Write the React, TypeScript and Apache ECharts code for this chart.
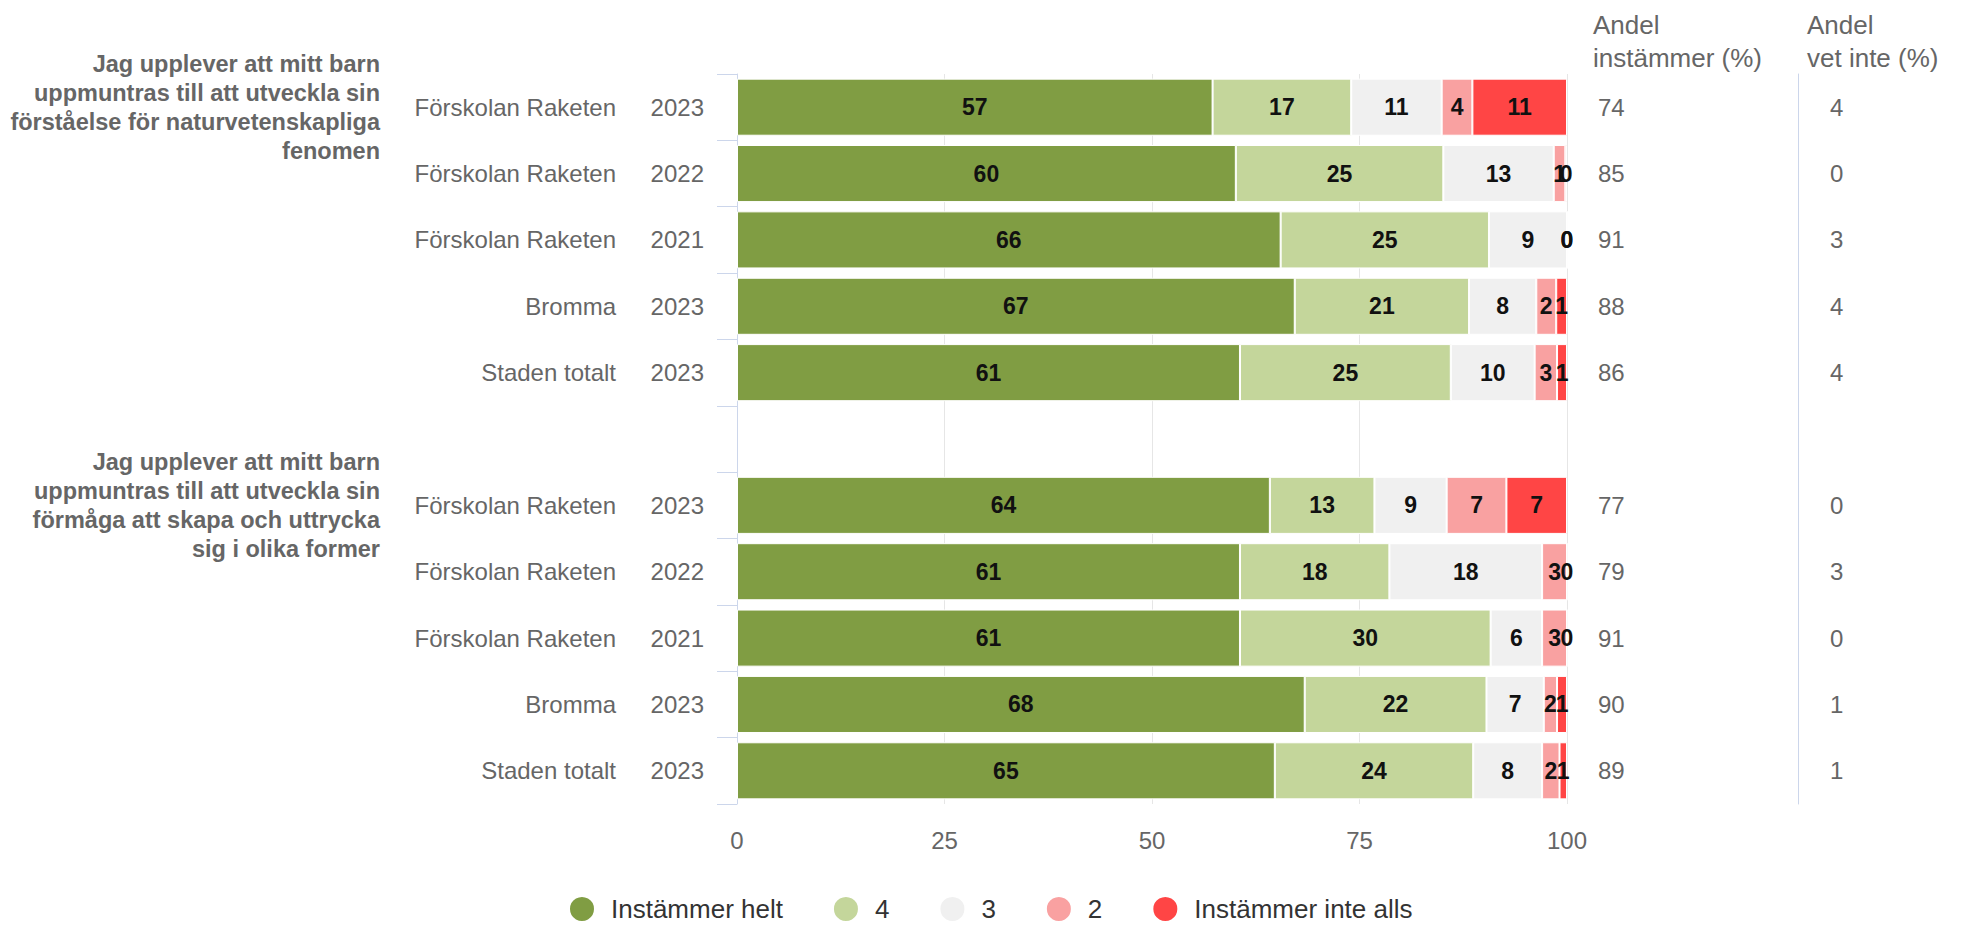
import React, { useEffect, useRef } from "react";
import * as echarts from "echarts";

const categories = [
  "Förskolan Raketen", "Förskolan Raketen", "Förskolan Raketen", "Bromma", "Staden totalt", "",
  "Förskolan Raketen", "Förskolan Raketen", "Förskolan Raketen", "Bromma", "Staden totalt",
];
const years = ["2023", "2022", "2021", "2023", "2023", "", "2023", "2022", "2021", "2023", "2023"];
const questions = [
  "Jag upplever att mitt barn\nuppmuntras till att utveckla sin\nförståelse för naturvetenskapliga\nfenomen",
  "", "", "", "", "",
  "Jag upplever att mitt barn\nuppmuntras till att utveckla sin\nförmåga att skapa och uttrycka\nsig i olika former",
  "", "", "", "",
];

const seriesNames = ["Instämmer helt", "4", "3", "2", "Instämmer inte alls"];
const seriesColors = ["#809d43", "#c4d69b", "#f0f0f0", "#f9a1a1", "#ff4545"];

const helt = [57.3, 60.1, 65.5, 67.2, 60.6, null, 64.2, 60.6, 60.6, 68.4, 64.8];
const fyra = [16.7, 25.0, 25.1, 21.0, 25.4, null, 12.6, 18.0, 30.2, 21.9, 23.9];
const tre = [10.9, 13.3, 9.4, 8.1, 10.1, null, 8.7, 18.4, 6.2, 6.9, 8.3];
const tva = [3.7, 1.4, 0, 2.4, 2.7, null, 7.2, 3.0, 3.0, 1.6, 2.1];
const inteAlls = [11.4, 0.2, 0, 1.3, 1.2, null, 7.3, 0, 0, 1.2, 0.9];

const andelInstammer = ["74", "85", "91", "88", "86", "", "77", "79", "91", "90", "89"];
const andelVetInte = ["4", "0", "3", "4", "4", "", "0", "3", "0", "1", "1"];

const xTicks = { min: 0, max: 100, interval: 25 };

const FONT = "'Liberation Sans', Arial, Helvetica, sans-serif";

export default function App() {
  const ref = useRef<HTMLDivElement>(null);

  useEffect(() => {
    if (!ref.current) return;
    const chart = echarts.init(ref.current, undefined, { renderer: "svg" });
    const values = [helt, fyra, tre, tva, inteAlls];

    const baseCatAxis = {
      type: "category" as const,
      inverse: true,
      gridIndex: 0,
      axisLine: { show: false },
      axisTick: { show: false },
      splitLine: { show: false },
    };

    chart.setOption({
      animation: false,
      textStyle: { fontFamily: FONT },
      title: [
        {
          text: "Andel\ninstämmer (%)",
          left: 1588,
          top: 3,
          textStyle: { fontSize: 26, fontWeight: "normal", color: "#666666", lineHeight: 33, fontFamily: FONT },
        },
        {
          text: "Andel\nvet inte (%)",
          left: 1802,
          top: 3,
          textStyle: { fontSize: 26, fontWeight: "normal", color: "#666666", lineHeight: 33, fontFamily: FONT },
        },
      ],
      legend: {
        data: seriesNames,
        top: 895,
        left: 568,
        padding: 0,
        icon: "circle",
        itemWidth: 26,
        itemHeight: 26,
        itemGap: 49,
        textStyle: { fontSize: 26, color: "#333333", fontFamily: FONT, padding: [0, 0, 0, 11] },
      },
      grid: { left: 737, top: 74, width: 830, height: 730 },
      xAxis: {
        type: "value",
        min: xTicks.min,
        max: xTicks.max,
        interval: xTicks.interval,
        axisLine: { show: false },
        axisTick: { show: false },
        splitLine: { show: true, lineStyle: { color: "#e6e6e6", width: 1 } },
        axisLabel: { fontSize: 24, color: "#666666", margin: 24, fontFamily: FONT },
      },
      yAxis: [
        {
          ...baseCatAxis,
          position: "left",
          data: years,
          axisLine: { show: true, lineStyle: { color: "#ccd6eb", width: 1 } },
          axisTick: { show: true, length: 20, alignWithLabel: false, lineStyle: { color: "#ccd6eb", width: 1 } },
          axisLabel: { interval: 0, margin: 33, fontSize: 24, color: "#666666", fontFamily: FONT },
        },
        {
          ...baseCatAxis,
          position: "left",
          offset: 88,
          data: categories,
          axisLabel: { interval: 0, margin: 33, fontSize: 24, color: "#666666", fontFamily: FONT },
        },
        {
          ...baseCatAxis,
          position: "left",
          offset: 300,
          data: questions,
          axisLabel: {
            interval: 0,
            margin: 57,
            fontSize: 23.5,
            fontWeight: "bold",
            lineHeight: 29,
            align: "right",
            color: "#666666",
            padding: [12, 0, 0, 0],
            fontFamily: FONT,
          },
        },
        {
          ...baseCatAxis,
          position: "right",
          offset: 0,
          data: andelInstammer,
          axisLabel: { interval: 0, margin: 31, fontSize: 24, color: "#666666", fontFamily: FONT },
        },
        {
          ...baseCatAxis,
          position: "right",
          offset: 231,
          data: andelVetInte,
          axisLine: { show: true, lineStyle: { color: "#ccd6eb", width: 1 } },
          axisLabel: { interval: 0, margin: 32, fontSize: 24, color: "#666666", fontFamily: FONT },
        },
      ],
      series: seriesNames.map((name, i) => ({
        name,
        type: "bar",
        stack: "total",
        xAxisIndex: 0,
        yAxisIndex: 0,
        barCategoryGap: "14%",
        data: values[i].map((v) => (v === null ? "-" : v)),
        itemStyle: { color: seriesColors[i], borderColor: "#ffffff", borderWidth: 1 },
        emphasis: { disabled: true },
        label: {
          show: true,
          position: "inside",
          fontSize: 23,
          fontWeight: "bold",
          color: "#111111",
          fontFamily: FONT,
          formatter: (p: any) => String(Math.round(Number(p.value))),
        },
      })),
    });

    return () => chart.dispose();
  }, []);

  return (
    <div
      ref={ref}
      style={{ position: "fixed", left: 0, top: 0, width: "1964px", height: "925px", background: "#ffffff" }}
    />
  );
}
